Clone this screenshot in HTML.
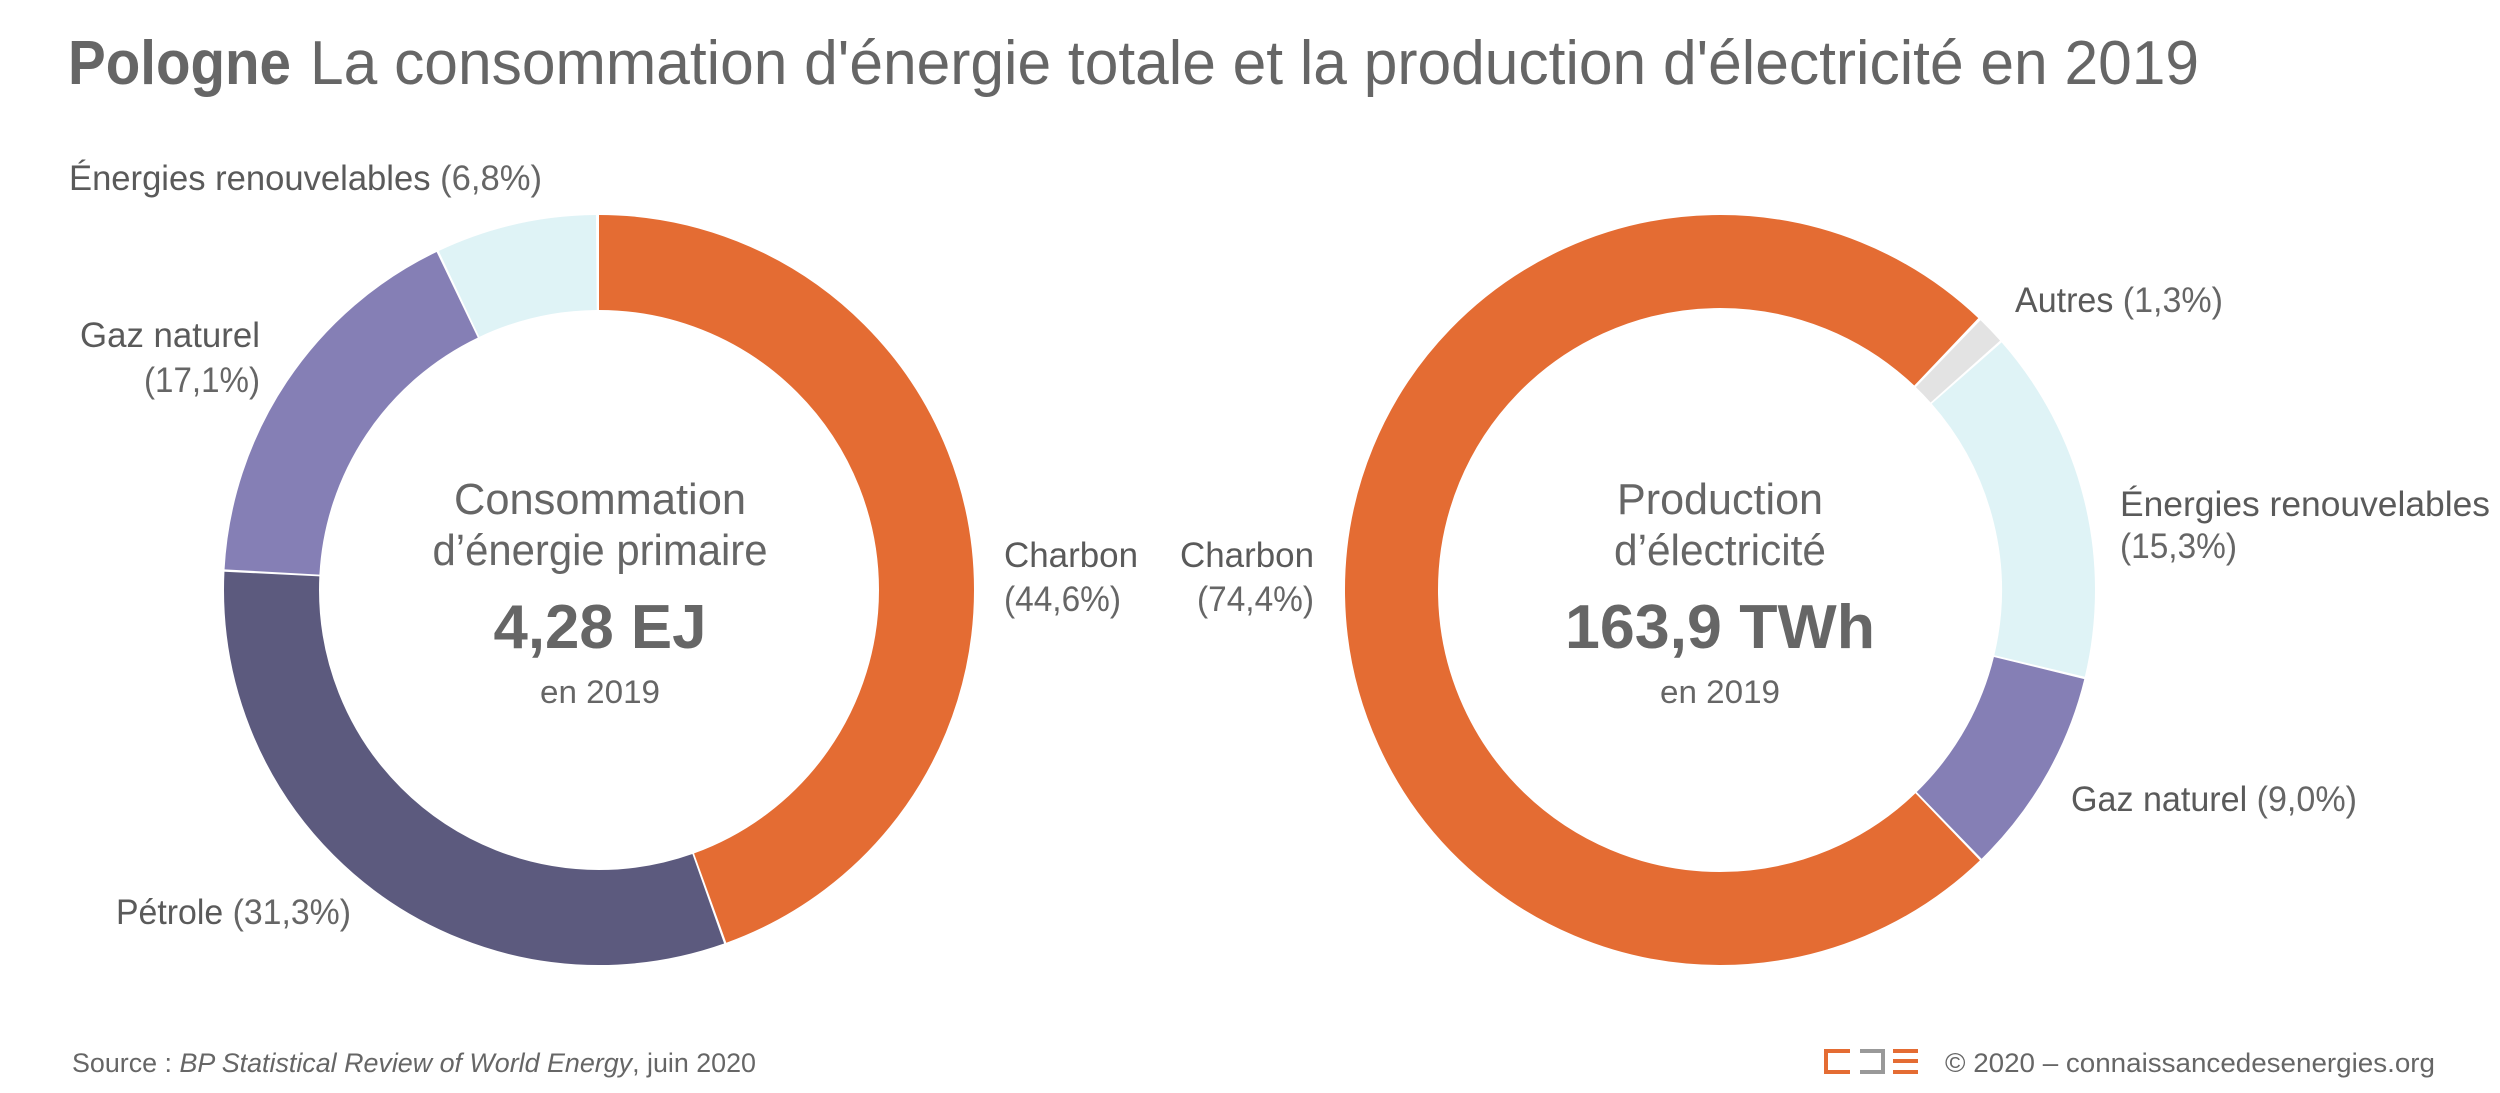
<!DOCTYPE html>
<html><head><meta charset="utf-8"><style>
html,body{margin:0;padding:0;background:#fff}
svg{display:block}
text{font-family:"Liberation Sans",sans-serif;fill:#666}
.n{fill:#5a5a5a}
</style></head><body>
<svg width="2500" height="1093" viewBox="0 0 2500 1093">
<text x="68" y="84" font-size="62"><tspan font-weight="bold" textLength="223" lengthAdjust="spacingAndGlyphs">Pologne</tspan><tspan x="310" textLength="1889" lengthAdjust="spacingAndGlyphs">La consommation d'énergie totale et la production d'électricité en 2019</tspan></text>

<g transform="translate(599,590) rotate(-90)" fill="none" stroke-width="95">
<circle r="327.5" pathLength="100" stroke="#E46C33" stroke-dasharray="44.5 100" stroke-dashoffset="0"/>
<circle r="327.5" pathLength="100" stroke="#5C5A7E" stroke-dasharray="31.2 100" stroke-dashoffset="-44.6"/>
<circle r="327.5" pathLength="100" stroke="#857FB5" stroke-dasharray="17.0 100" stroke-dashoffset="-75.9"/>
<circle r="327.5" pathLength="100" stroke="#DFF3F6" stroke-dasharray="6.9 100" stroke-dashoffset="-93.0"/>
</g>
<g transform="translate(1720,590) rotate(-46)" fill="none" stroke-width="93">
<circle r="328.5" pathLength="100" stroke="#E3E3E3" stroke-dasharray="1.2 100" stroke-dashoffset="0"/>
<circle r="328.5" pathLength="100" stroke="#DFF3F6" stroke-dasharray="15.2 100" stroke-dashoffset="-1.3"/>
<circle r="328.5" pathLength="100" stroke="#857FB5" stroke-dasharray="8.9 100" stroke-dashoffset="-16.6"/>
<circle r="328.5" pathLength="100" stroke="#E46C33" stroke-dasharray="74.3 100" stroke-dashoffset="-25.6"/>
</g>

<g font-size="35">
<text x="69" y="190" textLength="473" lengthAdjust="spacingAndGlyphs"><tspan class="n">Énergies renouvelables</tspan> (6,8%)</text>
<text x="260" y="347" text-anchor="end" class="n" textLength="180" lengthAdjust="spacingAndGlyphs">Gaz naturel</text>
<text x="260" y="392" text-anchor="end" textLength="116" lengthAdjust="spacingAndGlyphs">(17,1%)</text>
<text x="1004" y="567" class="n" textLength="134" lengthAdjust="spacingAndGlyphs">Charbon</text>
<text x="1004" y="611" textLength="117" lengthAdjust="spacingAndGlyphs">(44,6%)</text>
<text x="116" y="924" textLength="235" lengthAdjust="spacingAndGlyphs"><tspan class="n">Pétrole</tspan> (31,3%)</text>
<text x="1314" y="567" text-anchor="end" class="n" textLength="134" lengthAdjust="spacingAndGlyphs">Charbon</text>
<text x="1314" y="611" text-anchor="end" textLength="117" lengthAdjust="spacingAndGlyphs">(74,4%)</text>
<text x="2015" y="312" textLength="208" lengthAdjust="spacingAndGlyphs"><tspan class="n">Autres</tspan> (1,3%)</text>
<text x="2120" y="516" class="n" textLength="370" lengthAdjust="spacingAndGlyphs">Énergies renouvelables</text>
<text x="2120" y="558" textLength="117" lengthAdjust="spacingAndGlyphs">(15,3%)</text>
<text x="2071" y="811" textLength="286" lengthAdjust="spacingAndGlyphs"><tspan class="n">Gaz naturel</tspan> (9,0%)</text>
</g>

<g text-anchor="middle">
<text x="600" y="514" font-size="44" textLength="292" lengthAdjust="spacingAndGlyphs">Consommation</text>
<text x="600" y="565" font-size="44" textLength="335" lengthAdjust="spacingAndGlyphs">d’énergie primaire</text>
<text x="600" y="648" font-size="62" font-weight="bold" textLength="213" lengthAdjust="spacingAndGlyphs">4,28 EJ</text>
<text x="600" y="703" font-size="32" textLength="120" lengthAdjust="spacingAndGlyphs">en 2019</text>
<text x="1720" y="514" font-size="44" textLength="206" lengthAdjust="spacingAndGlyphs">Production</text>
<text x="1720" y="565" font-size="44" textLength="212" lengthAdjust="spacingAndGlyphs">d’électricité</text>
<text x="1720" y="648" font-size="62" font-weight="bold" textLength="310" lengthAdjust="spacingAndGlyphs">163,9 TWh</text>
<text x="1720" y="703" font-size="32" textLength="120" lengthAdjust="spacingAndGlyphs">en 2019</text>
</g>

<text x="72" y="1072" font-size="27" textLength="684" lengthAdjust="spacingAndGlyphs">Source : <tspan font-style="italic">BP Statistical Review of World Energy</tspan>, juin 2020</text>
<g>
<path d="M1850 1051 H1826 V1072 H1850" fill="none" stroke="#E46C33" stroke-width="4"/>
<path d="M1860 1051 H1883 V1072 H1860" fill="none" stroke="#999" stroke-width="4"/>
<rect x="1893" y="1049" width="25" height="4" fill="#E46C33"/>
<rect x="1893" y="1059" width="25" height="4" fill="#E46C33"/>
<rect x="1893" y="1070" width="25" height="4" fill="#E46C33"/>
</g>
<text x="1945" y="1072" font-size="27" textLength="490" lengthAdjust="spacingAndGlyphs">© 2020 – connaissancedesenergies.org</text>
</svg>
</body></html>
